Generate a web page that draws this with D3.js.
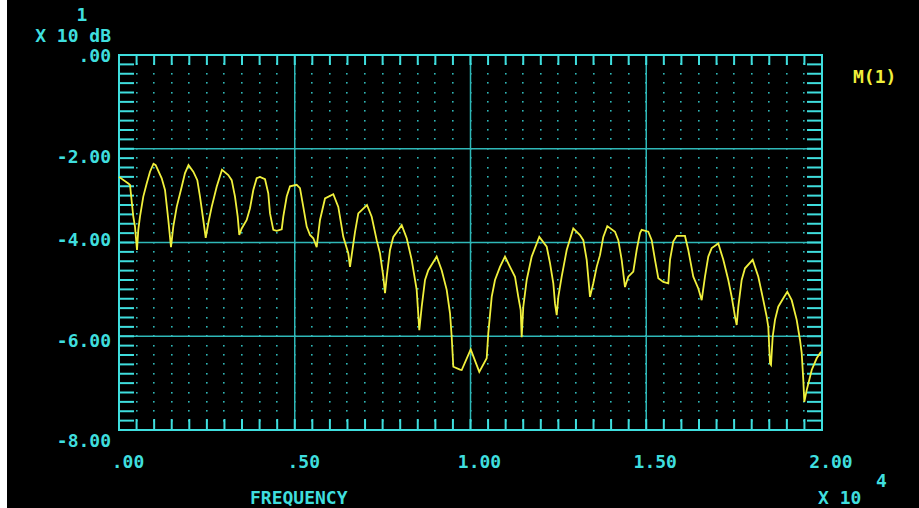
<!DOCTYPE html>
<html>
<head>
<meta charset="utf-8">
<script src="https://cdn.jsdelivr.net/npm/d3@7"></script>
<style>
  html, body { margin: 0; padding: 0; background: #000; }
  svg { display: block; }
  text { font-family: "DejaVu Sans Mono", monospace; font-weight: bold; }
</style>
</head>
<body>
<svg id="chart" width="919" height="508"></svg>
<script>
// frequency (x 10^4) and level (x 10 dB)
const freq = [0, 0.0265, 0.0313, 0.0407, 0.0455, 0.0512, 0.0549, 0.0597, 0.0691, 0.0788,
  0.0882, 0.0981, 0.1044, 0.1215, 0.1309, 0.1403, 0.1479, 0.1545, 0.1642, 0.1784,
  0.1878, 0.1977, 0.2114, 0.2228, 0.2304, 0.2398, 0.2467, 0.2540, 0.2637, 0.2779,
  0.2930, 0.3109, 0.3206, 0.3300, 0.3377, 0.3422, 0.3491, 0.3633, 0.3727, 0.3821,
  0.3917, 0.4011, 0.4154, 0.4247, 0.4296, 0.4390, 0.4486, 0.4629, 0.4674, 0.4771,
  0.4865, 0.5055, 0.5149, 0.5243, 0.5340, 0.5434, 0.5528, 0.5624, 0.5718, 0.5861,
  0.6097, 0.6239, 0.6381, 0.6523, 0.6572, 0.6714, 0.6808, 0.6905, 0.7055, 0.7189,
  0.7331, 0.7425, 0.7519, 0.7568, 0.7616, 0.7710, 0.7804, 0.8043, 0.8185, 0.8327,
  0.8469, 0.8543, 0.8612, 0.8706, 0.8799, 0.9038, 0.9180, 0.9323, 0.9417, 0.9465,
  0.9511, 0.9701, 0.9750, 1.0006, 1.0250, 1.0461, 1.0506, 1.0603, 1.0697, 1.0839,
  1.0981, 1.1124, 1.1266, 1.1360, 1.1428, 1.1456, 1.1502, 1.1599, 1.1741, 1.1957,
  1.2168, 1.2262, 1.2356, 1.2404, 1.2453, 1.2498, 1.2594, 1.2737, 1.2924, 1.3115,
  1.3209, 1.3306, 1.3400, 1.3494, 1.3590, 1.3684, 1.3778, 1.3892, 1.4111, 1.4205,
  1.4301, 1.4395, 1.4489, 1.4632, 1.4728, 1.4822, 1.4870, 1.5058, 1.5155, 1.5249,
  1.5343, 1.5485, 1.5627, 1.5676, 1.5769, 1.5866, 1.6102, 1.6196, 1.6338, 1.6481,
  1.6577, 1.6671, 1.6765, 1.6862, 1.7050, 1.7192, 1.7334, 1.7431, 1.7525, 1.7573,
  1.7619, 1.7715, 1.7809, 1.8028, 1.8188, 1.8330, 1.8426, 1.8472, 1.8521, 1.8549,
  1.8597, 1.8663, 1.8756, 1.8899, 1.9013, 1.9138, 1.9280, 1.9374, 1.9423, 1.9468,
  1.9497, 1.9565, 1.9707, 1.9849, 1.9972];

const level = [-2.60, -2.74, -2.77, -3.45, -3.66, -4.16, -3.73, -3.45, -3.02, -2.74,
  -2.49, -2.32, -2.35, -2.63, -2.88, -3.52, -4.10, -3.66, -3.24, -2.81,
  -2.52, -2.35, -2.49, -2.67, -3.02, -3.52, -3.90, -3.59, -3.24, -2.81,
  -2.45, -2.56, -2.67, -3.02, -3.45, -3.84, -3.70, -3.52, -3.27, -2.88,
  -2.63, -2.60, -2.65, -2.95, -3.38, -3.73, -3.75, -3.72, -3.45, -3.02,
  -2.80, -2.77, -2.84, -3.24, -3.66, -3.84, -3.91, -4.10, -3.52, -3.06,
  -2.97, -3.24, -3.88, -4.23, -4.52, -3.78, -3.38, -3.31, -3.20, -3.45,
  -3.95, -4.23, -4.73, -5.08, -4.73, -4.16, -3.88, -3.63, -3.91, -4.37,
  -5.01, -5.87, -5.37, -4.80, -4.59, -4.30, -4.59, -5.01, -5.51, -6.01,
  -6.65, -6.71, -6.72, -6.28, -6.76, -6.47, -5.94, -5.16, -4.80, -4.52,
  -4.30, -4.52, -4.73, -5.16, -5.44, -6.02, -5.37, -4.80, -4.30, -3.88,
  -4.09, -4.44, -4.87, -5.30, -5.55, -5.16, -4.73, -4.16, -3.70, -3.84,
  -3.95, -4.37, -5.16, -4.87, -4.52, -4.27, -3.88, -3.65, -3.77, -3.95,
  -4.37, -4.95, -4.73, -4.62, -4.16, -3.80, -3.73, -3.77, -3.95, -4.37,
  -4.76, -4.84, -4.87, -4.37, -3.98, -3.86, -3.86, -4.16, -4.73, -4.98,
  -5.23, -4.73, -4.30, -4.12, -4.02, -4.37, -4.80, -5.16, -5.58, -5.76,
  -5.37, -4.80, -4.55, -4.37, -4.73, -5.23, -5.58, -5.80, -6.58, -6.61,
  -6.01, -5.65, -5.37, -5.19, -5.05, -5.23, -5.65, -6.08, -6.36, -6.93,
  -7.40, -7.15, -6.72, -6.47, -6.33];

const xTickValues = [0, 0.5, 1.0, 1.5, 2.0];
const xTickLabels = [".00", ".50", "1.00", "1.50", "2.00"];
const yTickValues = [0, -2, -4, -6, -8];
const yTickLabels = [".00", "-2.00", "-4.00", "-6.00", "-8.00"];
const seriesName = "M(1)";

const cyan = "#3fdede";
const gridCyan = "#2fb8b8";
const yellow = "#f0f03c";

const svg = d3.select("#chart");
svg.append("rect").attr("width", 919).attr("height", 508).attr("fill", "#000");
svg.append("rect").attr("width", 7).attr("height", 508).attr("fill", "#fff");

const x = d3.scaleLinear().domain([0, 2]).range([119, 822]);
const y = d3.scaleLinear().domain([-8, 0]).range([430, 55]);

const xMinor = d3.range(1, 40).map(i => i * 0.05);
const yMinor = d3.range(1, 40).map(i => -i * 0.2);

// dotted minor grid
const dots = [];
xMinor.forEach(fx => yMinor.forEach(fy => dots.push([fx, fy])));
svg.append("g").selectAll("rect")
  .data(dots)
  .enter()
  .append("rect")
  .attr("x", d => Math.round(x(d[0])) - 1)
  .attr("y", d => Math.round(y(d[1])) - 1)
  .attr("width", 1.6)
  .attr("height", 1.6)
  .attr("fill", gridCyan);

// major grid lines
const grid = svg.append("g").attr("stroke", gridCyan).attr("stroke-width", 1.5);
grid.selectAll("line.h")
  .data(yTickValues.slice(1, -1))
  .enter()
  .append("line")
  .attr("x1", x(0)).attr("x2", x(2))
  .attr("y1", d => y(d)).attr("y2", d => y(d));
grid.selectAll("line.v")
  .data(xTickValues.slice(1, -1))
  .enter()
  .append("line")
  .attr("y1", y(0)).attr("y2", y(-8))
  .attr("x1", d => x(d)).attr("x2", d => x(d));

// minor ticks on all four sides
const ticks = svg.append("g").attr("stroke", cyan).attr("stroke-width", 2);
ticks.selectAll("line.l").data(yMinor).enter().append("line")
  .attr("x1", x(0)).attr("x2", x(0) + 15)
  .attr("y1", d => y(d)).attr("y2", d => y(d));
ticks.selectAll("line.r").data(yMinor).enter().append("line")
  .attr("x1", x(2) - 15).attr("x2", x(2))
  .attr("y1", d => y(d)).attr("y2", d => y(d));
ticks.selectAll("line.t").data(xMinor).enter().append("line")
  .attr("y1", y(0)).attr("y2", y(0) + 10)
  .attr("x1", d => x(d)).attr("x2", d => x(d));
ticks.selectAll("line.b").data(xMinor).enter().append("line")
  .attr("y1", y(-8) - 11).attr("y2", y(-8))
  .attr("x1", d => x(d)).attr("x2", d => x(d));

// frame
svg.append("rect")
  .attr("x", x(0)).attr("y", y(0))
  .attr("width", x(2) - x(0)).attr("height", y(-8) - y(0))
  .attr("fill", "none").attr("stroke", cyan).attr("stroke-width", 2);

// trace
const line = d3.line()
  .x((d, i) => x(freq[i]))
  .y(d => y(d));
svg.append("path")
  .datum(level)
  .attr("d", line)
  .attr("fill", "none")
  .attr("stroke", yellow)
  .attr("stroke-width", 1.8)
  .attr("stroke-linejoin", "miter");

// labels
const txt = svg.append("g").attr("fill", cyan).style("font-size", "18px");
const yNudge = [7, 14, 3, 11, 17];
txt.selectAll("text.yl")
  .data(yTickValues)
  .enter()
  .append("text")
  .attr("x", 111)
  .attr("y", (d, i) => y(d) + yNudge[i])
  .attr("text-anchor", "end")
  .text((d, i) => yTickLabels[i]);

txt.selectAll("text.xl")
  .data(xTickValues)
  .enter()
  .append("text")
  .attr("x", d => x(d) + 9)
  .attr("y", 468)
  .attr("text-anchor", "middle")
  .text((d, i) => xTickLabels[i]);

txt.append("text").attr("x", 82).attr("y", 21).attr("text-anchor", "middle").text("1");
txt.append("text").attr("x", 111).attr("y", 42).attr("text-anchor", "end").text("X 10 dB");
txt.append("text").attr("x", 250).attr("y", 504).text("FREQUENCY");
txt.append("text").attr("x", 818).attr("y", 504).text("X 10");
txt.append("text").attr("x", 876).attr("y", 487).text("4");

svg.append("text")
  .attr("x", 853).attr("y", 83)
  .attr("fill", yellow)
  .style("font-size", "18px")
  .text(seriesName);
</script>
</body>
</html>
